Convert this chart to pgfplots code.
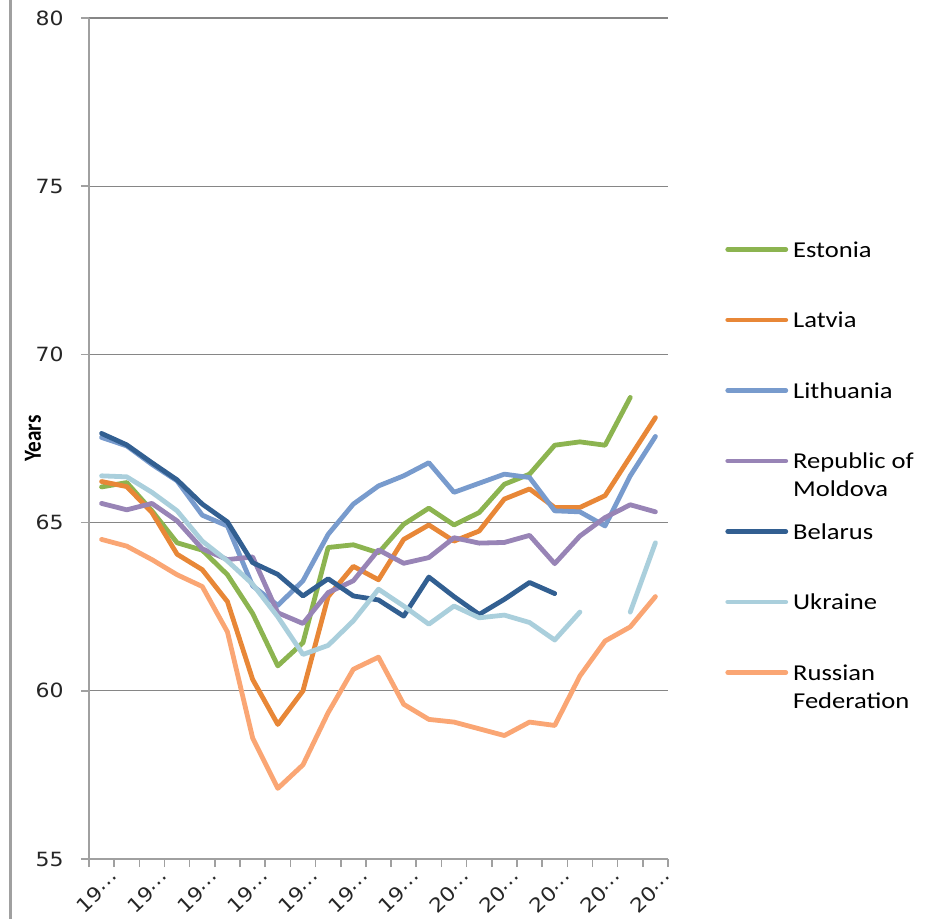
\documentclass[border=0pt]{standalone}
\usepackage{pgfplots}
\usepackage{pgfplotstable}
\pgfplotsset{compat=1.18}
\usepackage{fontspec}
\setmainfont{Carlito}[FakeStretch=1.17]
\newfontfamily\yearsfont{Carlito}[FakeStretch=0.86]
\newfontfamily\tickfam{DejaVu Sans}[FakeStretch=1.12]
\definecolor{cEst}{RGB}{140,180,80}
\definecolor{cLat}{RGB}{232,135,55}
\definecolor{cLit}{RGB}{120,155,205}
\definecolor{cMol}{RGB}{152,132,182}
\definecolor{cBel}{RGB}{50,95,145}
\definecolor{cUkr}{RGB}{170,207,220}
\definecolor{cRus}{RGB}{250,166,116}
\definecolor{gridgray}{RGB}{134,134,134}
\definecolor{axgray}{RGB}{160,160,160}
\newcommand\legfont{\fontsize{11.35}{14}\selectfont}
\newcommand\tickfont{\tickfam\fontsize{9.8}{11}\selectfont}

\pgfplotstableread{
i  Est   Lat   Lit   Mol   Bel   Ukr   Rus
0  66.06 66.22 67.53 65.57 67.65 66.39 64.50
1  66.19 66.07 67.28 65.38 67.31 66.36 64.30
2  65.35 65.30 66.73 65.57 66.78 65.90 63.90
3  64.40 64.06 66.24 65.05 66.27 65.35 63.45
4  64.18 63.60 65.22 64.22 65.55 64.45 63.10
5  63.45 62.65 64.90 63.90 65.02 63.86 61.75
6  62.30 60.34 63.12 63.98 63.81 63.17 58.60
7  60.74 59.00 62.54 62.32 63.46 62.20 57.10
8  61.43 60.00 63.27 62.00 62.82 61.08 57.80
9  64.26 62.80 64.65 62.92 63.33 61.35 59.35
10 64.34 63.70 65.55 63.27 62.82 62.08 60.64
11 64.10 63.30 66.09 64.19 62.70 63.02 61.00
12 64.95 64.50 66.39 63.79 62.22 62.52 59.60
13 65.43 64.93 66.78 63.96 63.38 61.98 59.15
14 64.93 64.45 65.90 64.55 62.80 62.52 59.07
15 65.30 64.75 66.17 64.39 62.27 62.17 58.87
16 66.14 65.70 66.44 64.41 62.72 62.25 58.67
17 66.44 66.00 66.34 64.62 63.22 62.03 59.07
18 67.30 65.45 65.35 63.78 62.89 61.51 58.97
19 67.40 65.45 65.32 64.60 nan   62.34 60.44
20 67.30 65.80 64.90 65.15 nan   nan   61.48
21 68.72 66.96 66.39 65.53 nan   62.34 61.90
22 nan   68.12 67.56 65.32 nan   64.40 62.80
}\data

\begin{document}
\begin{tikzpicture}
\begin{axis}[
  scale only axis, width=289.5pt, height=420.5pt,
  xmin=-0.5, xmax=22.5, ymin=55, ymax=80,
  clip=false,
  unbounded coords=jump,
  axis x line*=bottom, axis y line*=left,
  axis line style={axgray, line width=1pt},
  ytick={55,60,...,80},
  minor ytick={55,60,...,80},
  ymajorgrids, grid style={gridgray, line width=0.6pt},
  xtick={0,2,...,22},
  xticklabels={19⋯,19⋯,19⋯,19⋯,19⋯,19⋯,19⋯,20⋯,20⋯,20⋯,20⋯,20⋯},
  minor xtick={-0.5,0.5,...,22.5},
  tick align=outside, major tick length=0pt, minor tick length=4pt,
  tick style={axgray, line width=0.8pt},
  /pgf/number format/assume math mode=true,
  tick label style={font=\tickfont, text=black!85},
  yticklabel style={anchor=east, inner sep=0pt, xshift=-12.5pt},
  xticklabel style={xshift=7.5pt, yshift=-8pt, rotate=43, anchor=east, inner sep=0pt},
  ylabel={\yearsfont\bfseries\fontsize{12.3}{14}\selectfont Years},
  ylabel style={at={(axis description cs:-0.0967,0.5)}, anchor=center},
  every axis plot/.append style={line width=2.4pt, line join=round, line cap=round},
  legend image code/.code={\draw[#1] (0pt,0pt) -- (29pt,0pt);},
  legend cell align=left,
  legend style={at={(1.0984,0.7348)}, anchor=north west, draw=none, fill=none,
    inner sep=0pt, row sep=27.25pt, column sep=2.5pt,
    nodes={inner sep=0pt, text height=8pt, text depth=0pt, font=\legfont}},
]
\addplot[cEst] table[x=i, y=Est] {\data};
\addlegendentry{Estonia}
\addplot[cLat] table[x=i, y=Lat] {\data};
\addlegendentry{Latvia}
\addplot[cLit] table[x=i, y=Lit] {\data};
\addlegendentry{Lithuania}
\addplot[cMol] table[x=i, y=Mol] {\data};
\addlegendentry{\begin{tabular}[t]{@{}l@{}}Republic of\\Moldova\end{tabular}}
\addplot[cBel] table[x=i, y=Bel] {\data};
\addlegendentry{Belarus}
\addplot[cUkr] table[x=i, y=Ukr] {\data};
\addlegendentry{Ukraine}
\addplot[cRus] table[x=i, y=Rus] {\data};
\addlegendentry{\begin{tabular}[t]{@{}l@{}}Russian\\Federation\end{tabular}}
\draw[axgray, line width=1.5pt] (rel axis cs:-0.1347,-0.0713) -- (rel axis cs:-0.1347,1.0214);
\coordinate (bbsw) at (rel axis cs:-0.1537,-0.0713);
\coordinate (bbne) at (rel axis cs:1.4456,1.0214);
\end{axis}
\pgfresetboundingbox
\useasboundingbox (bbsw) rectangle (bbne);
\end{tikzpicture}
\end{document}
